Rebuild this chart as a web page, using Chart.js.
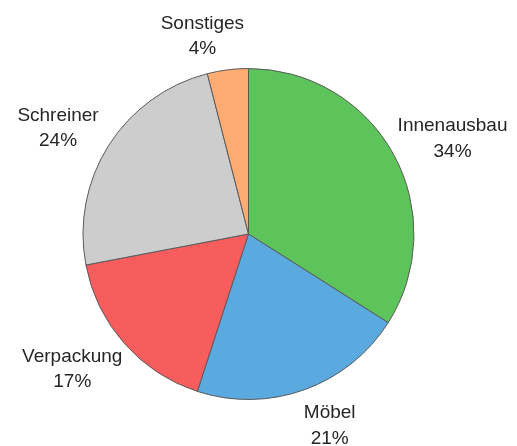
<!DOCTYPE html>
<html>
<head>
<meta charset="utf-8">
<script src="https://cdn.jsdelivr.net/npm/chart.js@4.4.1/dist/chart.umd.min.js"></script>
<style>
  html, body { margin: 0; padding: 0; background: #fff; }
  #wrap { width: 517px; height: 446px; position: relative; }
</style>
</head>
<body>
<div id="wrap"><canvas id="pieChart"></canvas></div>
<script>
// Anteile je Bereich in Prozent
const categories = ['Innenausbau', 'Möbel', 'Verpackung', 'Schreiner', 'Sonstiges'];
const shares = [34, 21, 17, 24, 4];
const sliceColors = ['#5cc45b', '#5aaae0', '#f85d5e', '#cdcdcd', '#ffac72'];

// draws "Name / xx%" outside each slice
const outsideLabels = {
    id: 'outsideLabels',
    afterDatasetsDraw(chart) {
        const ctx = chart.ctx;
        const meta = chart.getDatasetMeta(0);
        ctx.save();
        ctx.font = '19px "Liberation Sans", Arial, sans-serif';
        ctx.fillStyle = '#262626';
        ctx.textAlign = 'center';
        ctx.textBaseline = 'alphabetic';
        meta.data.forEach((arc, i) => {
            const mid = (arc.startAngle + arc.endAngle) / 2;
            const d = arc.outerRadius + 36;
            const line1 = categories[i];
            const line2 = shares[i] + '%';
            const half = ctx.measureText(line1).width / 2;
            const cos = Math.cos(mid);
            let x = arc.x + cos * d + Math.sign(cos) * half * 0.5;
            const y = arc.y + Math.sin(mid) * d;
            ctx.fillText(line1, x, y - 5.5);
            ctx.fillText(line2, x, y + 20);
        });
        ctx.restore();
    }
};

const ctx = document.getElementById('pieChart').getContext('2d');
const pieChart = new Chart(ctx, {
    type: 'pie',
    data: {
        labels: categories,
        datasets: [{
            data: shares,
            backgroundColor: sliceColors,
            borderColor: '#5a5a5a',
            borderWidth: 1
        }]
    },
    options: {
        responsive: true,
        maintainAspectRatio: false,
        animation: false,
        layout: {
            padding: { left: 82, right: 102, top: 68, bottom: 46 }
        },
        plugins: {
            legend: { display: false },
            tooltip: { enabled: false }
        }
    },
    plugins: [outsideLabels]
});
</script>
</body>
</html>
